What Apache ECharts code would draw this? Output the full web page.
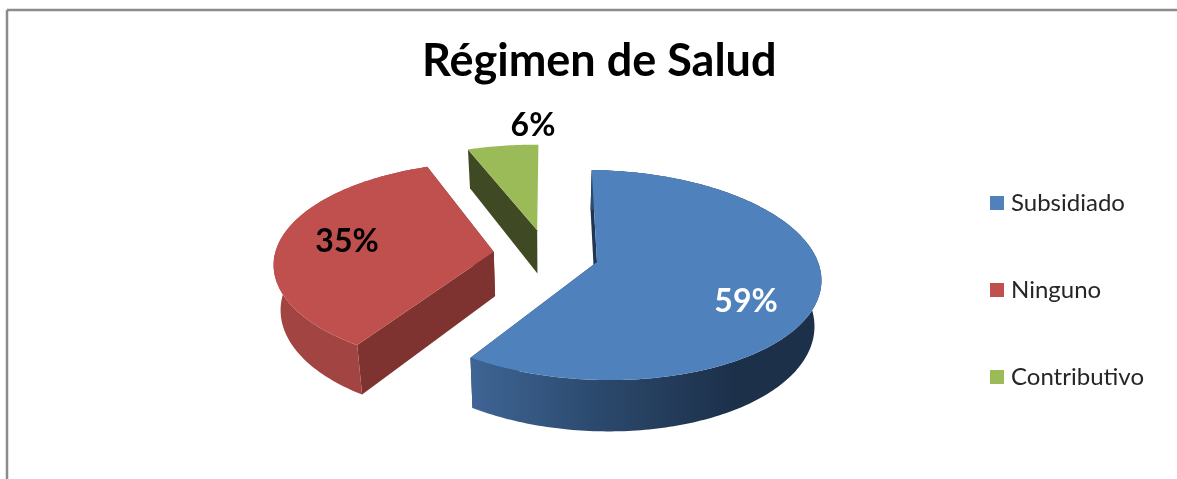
<!DOCTYPE html>
<html>
<head>
<meta charset="utf-8">
<style>html,body{margin:0;padding:0;background:#fff}#c{width:1177px;height:479px}</style>
<script src="https://cdn.jsdelivr.net/npm/echarts@6/dist/echarts.min.js"></script>
</head>
<body>
<div id="c"></div>
<script>
const categories = ['Subsidiado', 'Ninguno', 'Contributivo'];
const values = [59, 35, 6];

const titleText = 'Régimen de Salud';
const topColors = ['#4F81BD', '#C0504D', '#9BBB59'];
const innerColors = ['#1F3552', '#7F3331', '#3F4A24'];
const rimStops = [
  [[0, '#3F6595'], [0.35, '#2C4A6E'], [0.75, '#1C304A'], [1, '#1C304A']],
  [[0, '#A24542'], [1, '#A24542']],
  [[0, '#3F4A24'], [1, '#3F4A24']]
];
const explodeU = [0, -0.468, -0.265];
const explodeV = [0, 0.1, 0.32];
const drawEndFace = [true, true, false];
const labelX = [746, 347, 533];
const labelY = [302, 242, 126];
const labelFill = ['#fff', '#000', '#000'];

// perspective camera for the tilted pie
const cam = { x0: 597, y0: 262, A: 221, B: 103.4, k: 0.124, shear: 0.11, depth: 45, vx: 548, vs: 0.0255, rot: 1.4 };
const FONT = 'Lato, "Open Sans", sans-serif';

function project(u, v, z) {
  const w = 1 + cam.k * v;
  const dy = -cam.B * v / w;
  let x = cam.x0 + cam.A * u / w + cam.shear * dy;
  let y = cam.y0 + dy;
  if (z) {
    y += cam.depth / w;
    x += (cam.vx - x) * cam.vs;
  }
  return [x, y];
}
function rimPoint(deg, i, z) {
  const a = (deg + cam.rot) * Math.PI / 180;
  return project(Math.sin(a) + explodeU[i], Math.cos(a) + explodeV[i], z);
}
const total = values.reduce((s, v) => s + v, 0);

function renderSlice(i) {
  return function (params, api) {
    const before = values.slice(0, i).reduce((s, v) => s + v, 0);
    const start = before / total * 360;
    const end = start + api.value(0) / total * 360;
    const topRim = [], lowRim = [];
    for (let d = start; d < end; d += 1) {
      topRim.push(rimPoint(d, i, false));
      lowRim.push(rimPoint(d, i, true));
    }
    topRim.push(rimPoint(end, i, false));
    lowRim.push(rimPoint(end, i, true));
    const apexTop = project(explodeU[i], explodeV[i], false);
    const apexLow = project(explodeU[i], explodeV[i], true);
    const last = topRim.length - 1;
    const poly = (pts, fill) => ({
      type: 'polygon', shape: { points: pts }, style: { fill: fill }, silent: true
    });
    const children = [];
    children.push(poly([apexTop, topRim[0], lowRim[0], apexLow], innerColors[i]));
    if (drawEndFace[i]) {
      children.push(poly([apexTop, topRim[last], lowRim[last], apexLow], innerColors[i]));
      children.push(poly(topRim.concat(lowRim.slice().reverse()), {
        type: 'linear', x: 0, y: 0, x2: 1, y2: 0,
        colorStops: rimStops[i].map(s => ({ offset: s[0], color: s[1] }))
      }));
    }
    children.push(poly([apexTop].concat(topRim), topColors[i]));
    children.push({
      type: 'text', silent: true,
      style: {
        text: api.value(0) + '%', x: labelX[i], y: labelY[i],
        align: 'center', verticalAlign: 'middle',
        fill: labelFill[i], font: 'bold 32px ' + FONT
      }
    });
    return { type: 'group', children: children };
  };
}

const chart = echarts.init(document.getElementById('c'), null, { renderer: 'canvas' });
chart.setOption({
  animation: false,
  backgroundColor: '#fff',
  title: {
    text: titleText, left: 422, top: 39, padding: 0,
    textStyle: { fontFamily: FONT, fontWeight: 'bold', fontSize: 45, color: '#000' }
  },
  legend: {
    orient: 'vertical', left: 990, top: 191, padding: 0,
    itemWidth: 14, itemHeight: 14, itemGap: 63, icon: 'rect',
    data: categories,
    selectedMode: false,
    textStyle: { fontFamily: FONT, fontSize: 24, lineHeight: 20, color: '#262626', padding: [0, 0, 0, 2] }
  },
  graphic: [
    { type: 'line', silent: true, shape: { x1: 7, y1: 10, x2: 1177, y2: 10 }, style: { stroke: '#8C8C8C', lineWidth: 2.5 } },
    { type: 'line', silent: true, shape: { x1: 7, y1: 10, x2: 7, y2: 479 }, style: { stroke: '#8C8C8C', lineWidth: 2.5 } }
  ],
  series: categories.map((name, i) => ({
    type: 'custom',
    name: name,
    coordinateSystem: 'none',
    itemStyle: { color: topColors[i] },
    z: 2,
    renderItem: renderSlice(i),
    data: [[values[i]]]
  }))
});
</script>
</body>
</html>
